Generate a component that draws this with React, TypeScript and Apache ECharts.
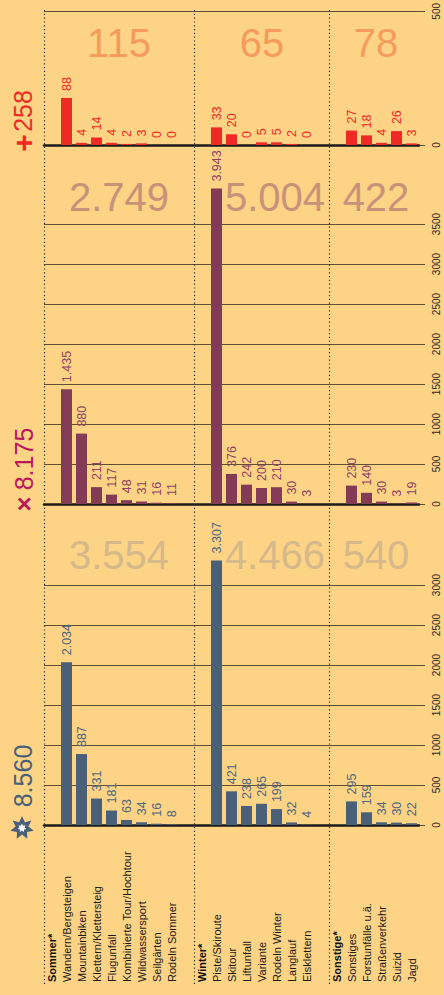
import React, { useEffect, useRef } from "react";
import * as echarts from "echarts";

const categories = [
  "Sommer*", "Wandern/Bergsteigen", "Mountainbiken", "Klettern/Klettersteig", "Flugunfall",
  "Kombinierte Tour/Hochtour", "Wildwassersport", "Seilgärten", "Rodeln Sommer", "",
  "Winter*", "Piste/Skiroute", "Skitour", "Liftunfall", "Variante", "Rodeln Winter",
  "Langlauf", "Eisklettern", " ",
  "Sonstige*", "Sonstiges", "Forstunfälle u.ä.", "Straßenverkehr", "Suizid", "Jagd",
];
const headerCats = ["Sommer*", "Winter*", "Sonstige*"];

const deaths = ["-", 88, 4, 14, 4, 2, 3, 0, 0, "-", "-", 33, 20, 0, 5, 5, 2, 0, "-", "-", 27, 18, 4, 26, 3];
const injured = ["-", 1435, 880, 211, 117, 48, 31, 16, 11, "-", "-", 3943, 376, 242, 200, 210, 30, 3, "-", "-", 230, 140, 30, 3, 19];
const unhurt = ["-", 2034, 887, 331, 181, 63, 34, 16, 8, "-", "-", 3307, 421, 238, 265, 199, 32, 4, "-", "-", 295, 159, 34, 30, 22];

const deathGroupTotals = ["115", "65", "78"];
const injuredGroupTotals = ["2.749", "5.004", "422"];
const unhurtGroupTotals = ["3.554", "4.466", "540"];
const panelTotals = ["258", "8.175", "8.560"];
const deathTickLabels = ["0", "500"];

const FONT = "'Liberation Sans', Arial, Helvetica, sans-serif";
const BG = "#FDD385";
const RED = "#EE2A24";
const PLUM = "#843C56";
const PLUM_LABEL = "#8E4362";
const SLATE = "#4A6079";
const SLATE_LABEL = "#4E6680";
const GRIDLINE = "rgba(50,42,30,0.78)";

const fmt = (v: number) => String(v).replace(/\B(?=(\d{3})+(?!\d))/g, ".");

function starPoints(cx: number, cy: number, n: number, ro: number, ri: number) {
  const pts: number[][] = [];
  for (let i = 0; i < n * 2; i++) {
    const r = i % 2 === 0 ? ro : ri;
    const a = -Math.PI / 2 + (i * Math.PI) / n;
    pts.push([cx + r * Math.cos(a), cy + r * Math.sin(a)]);
  }
  return pts;
}

export default function App() {
  const ref = useRef<HTMLDivElement>(null);
  useEffect(() => {
    document.body.style.margin = "0";
    if (!ref.current) return;
    const chart = echarts.init(ref.current, undefined, { renderer: "svg" });

    const left = 44;
    const slot = 15;
    const width = slot * categories.length;
    const grids = [
      { left, width, top: 10, height: 135 },
      { left, width, top: 224, height: 280 },
      { left, width, top: 585, height: 240 },
    ];

    const xAxisBase = (gi: number) => ({
      type: "category",
      gridIndex: gi,
      data: categories,
      axisLine: { show: true, lineStyle: { color: "#1b1b1b", width: 2.5 } },
      axisTick: { show: false },
      axisLabel: { show: false },
      splitLine: { show: false },
    });

    const yAxisBase = (gi: number, max: number) => ({
      type: "value",
      gridIndex: gi,
      position: "right",
      min: 0,
      max,
      interval: gi === 0 ? 250 : 500,
      axisLine: { show: false },
      axisTick: { show: true, inside: false, length: 6, lineStyle: { color: GRIDLINE, width: 1 } },
      splitLine: { show: true, lineStyle: { color: GRIDLINE, width: 1 } },
      axisLabel: {
        rotate: 90,
        margin: 17,
        align: "center",
        verticalAlign: "middle",
        fontSize: 10,
        fontFamily: FONT,
        color: "#2a2a2a",
        formatter: (v: number) => (gi === 0 ? deathTickLabels[v === 0 ? 0 : 1] : String(v)),
      },
    });

    const seriesBase = (gi: number, data: any[], color: string, labelColor: string) => ({
      type: "bar",
      xAxisIndex: gi,
      yAxisIndex: gi,
      data,
      barWidth: 11,
      clip: false,
      itemStyle: { color },
      label: {
        show: true,
        position: "top",
        rotate: 90,
        align: "left",
        verticalAlign: "middle",
        distance: 7,
        fontSize: 12.5,
        fontFamily: FONT,
        color: labelColor,
        formatter: (p: any) => fmt(p.value),
      },
    });

    const xBottom: any = xAxisBase(2);
    xBottom.axisLabel = {
      show: true,
      interval: 0,
      rotate: 90,
      align: "left",
      verticalAlign: "middle",
      margin: 157,
      fontSize: 11,
      fontFamily: FONT,
      color: "#1a1a1a",
      formatter: (v: string) => (headerCats.includes(v) ? `{b|${v}}` : v),
      rich: { b: { fontWeight: "bold", fontSize: 11, fontFamily: FONT, color: "#111" } },
    };

    const bigText = (x: number, y: number, text: string, color: string) => ({
      type: "text",
      x,
      y,
      style: { text, fill: color, font: `40px ${FONT}`, align: "center", verticalAlign: "middle" },
      z: 1,
    });

    const sideText = (x: number, y: number, text: string, color: string, font: string) => ({
      type: "text",
      x,
      y,
      rotation: Math.PI / 2,
      style: { text, fill: color, font, align: "center", verticalAlign: "middle" },
    });

    const sepXs = [left + 0.5, left + 10 * slot + 0.5, left + 19 * slot + 0.5];
    const separators = sepXs.map((x) => ({
      type: "line",
      shape: { x1: x, y1: 10, x2: x, y2: 986 },
      style: { stroke: "#2a2a2a", lineWidth: 1.2, lineDash: [1.2, 2.6] },
      z: 0,
    }));

    const groupCentersX = [119, 262, 376];
    const winterWideX = 275;

    chart.setOption({
      animation: false,
      backgroundColor: BG,
      grid: grids,
      xAxis: [xAxisBase(0), xAxisBase(1), xBottom],
      yAxis: [yAxisBase(0, 250), yAxisBase(1, 3500), yAxisBase(2, 3000)],
      series: [
        seriesBase(0, deaths, RED, RED),
        seriesBase(1, injured, PLUM, PLUM_LABEL),
        seriesBase(2, unhurt, SLATE, SLATE_LABEL),
      ],
      graphic: [
        ...separators,
        bigText(groupCentersX[0], 43, deathGroupTotals[0], "#F59B5C"),
        bigText(groupCentersX[1], 43, deathGroupTotals[1], "#F59B5C"),
        bigText(groupCentersX[2], 43, deathGroupTotals[2], "#F59B5C"),
        bigText(groupCentersX[0], 197, injuredGroupTotals[0], "#C8927A"),
        bigText(winterWideX, 197, injuredGroupTotals[1], "#C8927A"),
        bigText(groupCentersX[2], 197, injuredGroupTotals[2], "#C8927A"),
        bigText(groupCentersX[0], 555, unhurtGroupTotals[0], "#D6B98B"),
        bigText(winterWideX, 555, unhurtGroupTotals[1], "#D6B98B"),
        bigText(groupCentersX[2], 555, unhurtGroupTotals[2], "#D6B98B"),
        sideText(23, 111, panelTotals[0], RED, `25px ${FONT}`),
        sideText(23, 143, "+", RED, `bold 30px ${FONT}`),
        sideText(24, 459, panelTotals[1], "#B8185C", `25px ${FONT}`),
        sideText(24, 504, "×", "#B8185C", `bold 26px ${FONT}`),
        sideText(23, 776, panelTotals[2], SLATE, `25px ${FONT}`),
        {
          type: "polygon",
          shape: { points: starPoints(22, 828, 7, 12, 6.5) },
          style: { fill: SLATE },
        },
        {
          type: "polygon",
          shape: { points: starPoints(22, 828, 7, 4.5, 2.6) },
          style: { fill: "#FFFFFF" },
        },
      ],
    });
    return () => chart.dispose();
  }, []);
  return <div ref={ref} style={{ width: 444, height: 995 }} />;
}
